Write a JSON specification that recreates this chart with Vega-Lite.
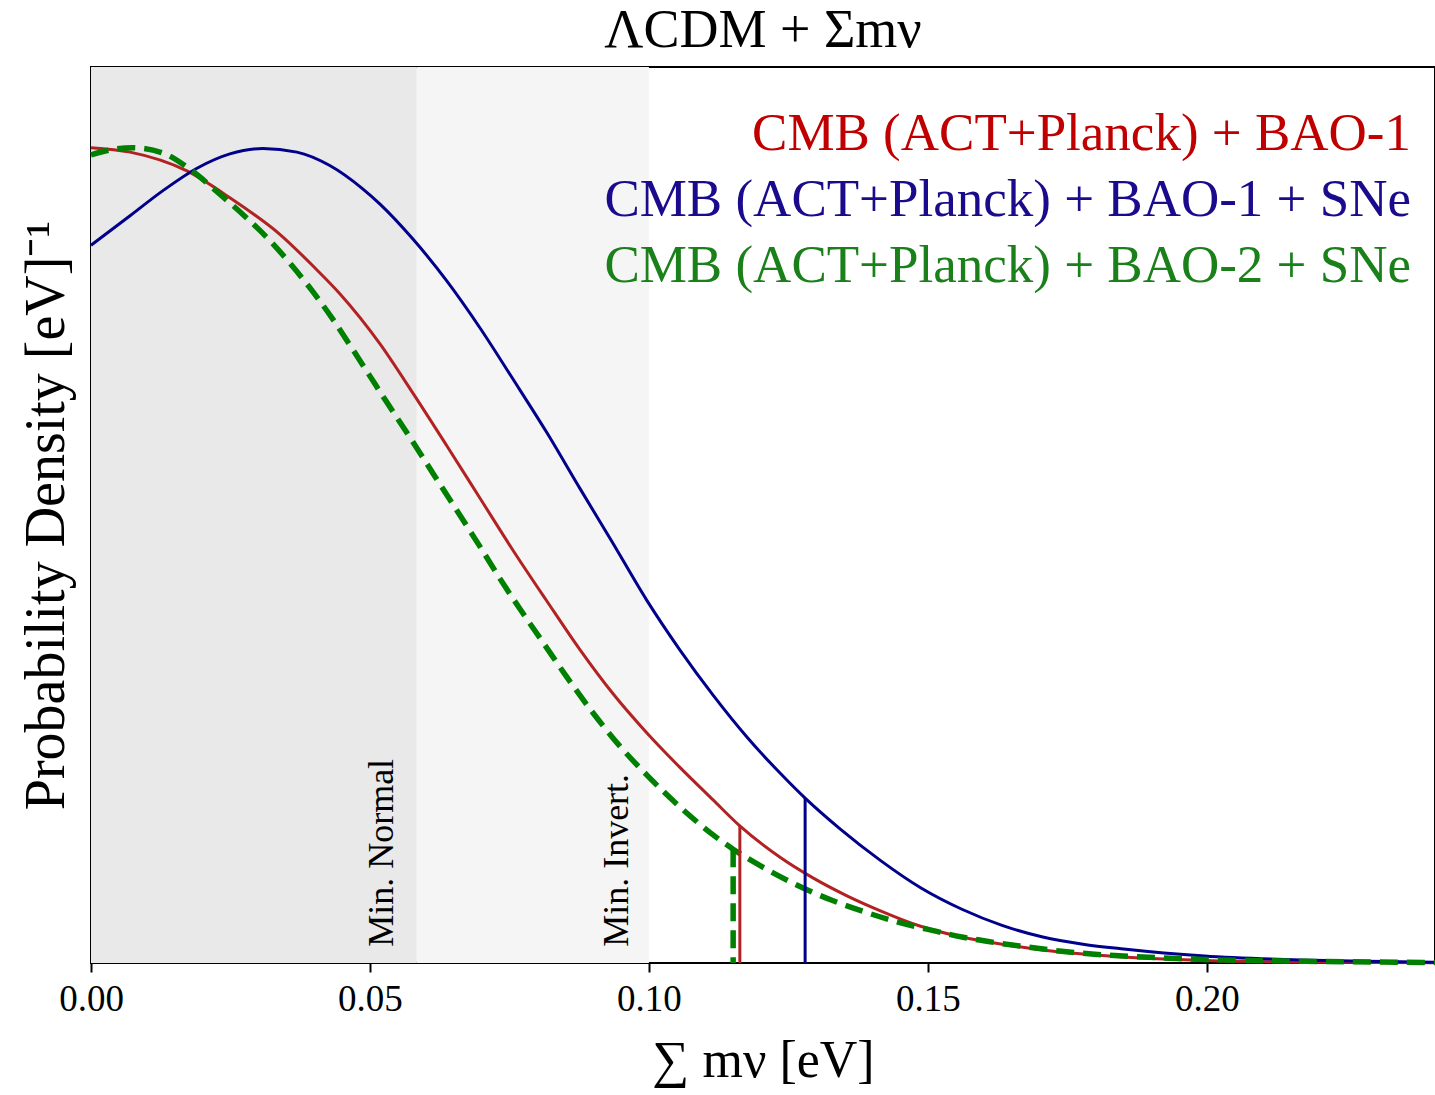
{
  "$schema": "https://vega.github.io/schema/vega-lite/v6.json",
  "autosize": {"type": "none"},
  "width": 1344,
  "height": 896,
  "padding": {"left": 91, "top": 67, "right": 0, "bottom": 132},
  "background": "white",
  "config": {
    "font": "Liberation Serif",
    "view": {"stroke": "black", "strokeWidth": 2},
    "title": {"font": "Liberation Serif", "fontSize": 54, "fontWeight": "normal", "color": "black", "offset": 9, "anchor": "middle"},
    "axis": {"grid": false, "labelFont": "Liberation Serif", "titleFont": "Liberation Serif", "titleFontWeight": "normal", "labelColor": "black", "titleColor": "black"}
  },
  "title": {"text": "ΛCDM + Σmν"},
  "datasets": {
    "curves": [
      {"s": "R", "m": 0.0, "p": 0.910}, {"s": "R", "m": 0.0070, "p": 0.905}, {"s": "R", "m": 0.0172, "p": 0.884}, {"s": "R", "m": 0.0249, "p": 0.854}, {"s": "R", "m": 0.0339, "p": 0.813}, {"s": "R", "m": 0.0401, "p": 0.776}, {"s": "R", "m": 0.0446, "p": 0.747}, {"s": "R", "m": 0.0518, "p": 0.691}, {"s": "R", "m": 0.0577, "p": 0.636}, {"s": "R", "m": 0.0638, "p": 0.577}, {"s": "R", "m": 0.0697, "p": 0.519}, {"s": "R", "m": 0.0756, "p": 0.461}, {"s": "R", "m": 0.0817, "p": 0.404}, {"s": "R", "m": 0.0876, "p": 0.350}, {"s": "R", "m": 0.0935, "p": 0.301}, {"s": "R", "m": 0.0996, "p": 0.257}, {"s": "R", "m": 0.1056, "p": 0.218}, {"s": "R", "m": 0.1115, "p": 0.182}, {"s": "R", "m": 0.1163, "p": 0.153}, {"s": "R", "m": 0.1235, "p": 0.118}, {"s": "R", "m": 0.1294, "p": 0.095}, {"s": "R", "m": 0.1355, "p": 0.075}, {"s": "R", "m": 0.1416, "p": 0.058}, {"s": "R", "m": 0.1487, "p": 0.041}, {"s": "R", "m": 0.1561, "p": 0.029}, {"s": "R", "m": 0.1633, "p": 0.021}, {"s": "R", "m": 0.1706, "p": 0.0145}, {"s": "R", "m": 0.1778, "p": 0.010}, {"s": "R", "m": 0.1851, "p": 0.0067}, {"s": "R", "m": 0.1923, "p": 0.0045}, {"s": "R", "m": 0.1996, "p": 0.0028}, {"s": "R", "m": 0.2142, "p": 0.0011}, {"s": "R", "m": 0.2409, "p": 0.0003},
      {"s": "B", "m": 0.0, "p": 0.801}, {"s": "B", "m": 0.0070, "p": 0.834}, {"s": "B", "m": 0.0129, "p": 0.862}, {"s": "B", "m": 0.0190, "p": 0.887}, {"s": "B", "m": 0.0249, "p": 0.903}, {"s": "B", "m": 0.0308, "p": 0.909}, {"s": "B", "m": 0.0369, "p": 0.905}, {"s": "B", "m": 0.0428, "p": 0.890}, {"s": "B", "m": 0.0487, "p": 0.864}, {"s": "B", "m": 0.0518, "p": 0.847}, {"s": "B", "m": 0.0577, "p": 0.808}, {"s": "B", "m": 0.0638, "p": 0.761}, {"s": "B", "m": 0.0697, "p": 0.709}, {"s": "B", "m": 0.0756, "p": 0.652}, {"s": "B", "m": 0.0817, "p": 0.592}, {"s": "B", "m": 0.0876, "p": 0.530}, {"s": "B", "m": 0.0935, "p": 0.469}, {"s": "B", "m": 0.0996, "p": 0.405}, {"s": "B", "m": 0.1056, "p": 0.349}, {"s": "B", "m": 0.1115, "p": 0.299}, {"s": "B", "m": 0.1176, "p": 0.252}, {"s": "B", "m": 0.1235, "p": 0.212}, {"s": "B", "m": 0.1280, "p": 0.184}, {"s": "B", "m": 0.1342, "p": 0.150}, {"s": "B", "m": 0.1416, "p": 0.114}, {"s": "B", "m": 0.1487, "p": 0.084}, {"s": "B", "m": 0.1561, "p": 0.060}, {"s": "B", "m": 0.1633, "p": 0.042}, {"s": "B", "m": 0.1706, "p": 0.029}, {"s": "B", "m": 0.1778, "p": 0.021}, {"s": "B", "m": 0.1851, "p": 0.0156}, {"s": "B", "m": 0.1923, "p": 0.0112}, {"s": "B", "m": 0.1996, "p": 0.0078}, {"s": "B", "m": 0.2142, "p": 0.0039}, {"s": "B", "m": 0.2287, "p": 0.0019}, {"s": "B", "m": 0.2409, "p": 0.0009},
      {"s": "G", "m": 0.0, "p": 0.902}, {"s": "G", "m": 0.0039, "p": 0.908}, {"s": "G", "m": 0.0075, "p": 0.910}, {"s": "G", "m": 0.0129, "p": 0.904}, {"s": "G", "m": 0.0177, "p": 0.886}, {"s": "G", "m": 0.0231, "p": 0.858}, {"s": "G", "m": 0.0280, "p": 0.831}, {"s": "G", "m": 0.0321, "p": 0.806}, {"s": "G", "m": 0.0362, "p": 0.777}, {"s": "G", "m": 0.0398, "p": 0.749}, {"s": "G", "m": 0.0434, "p": 0.718}, {"s": "G", "m": 0.0470, "p": 0.684}, {"s": "G", "m": 0.0500, "p": 0.655}, {"s": "G", "m": 0.0530, "p": 0.626}, {"s": "G", "m": 0.0566, "p": 0.592}, {"s": "G", "m": 0.0595, "p": 0.564}, {"s": "G", "m": 0.0631, "p": 0.529}, {"s": "G", "m": 0.0661, "p": 0.500}, {"s": "G", "m": 0.0697, "p": 0.465}, {"s": "G", "m": 0.0733, "p": 0.429}, {"s": "G", "m": 0.0769, "p": 0.395}, {"s": "G", "m": 0.0810, "p": 0.358}, {"s": "G", "m": 0.0853, "p": 0.319}, {"s": "G", "m": 0.0900, "p": 0.279}, {"s": "G", "m": 0.0948, "p": 0.242}, {"s": "G", "m": 0.0996, "p": 0.210}, {"s": "G", "m": 0.1056, "p": 0.174}, {"s": "G", "m": 0.1115, "p": 0.143}, {"s": "G", "m": 0.1151, "p": 0.127}, {"s": "G", "m": 0.1204, "p": 0.107}, {"s": "G", "m": 0.1265, "p": 0.087}, {"s": "G", "m": 0.1328, "p": 0.070}, {"s": "G", "m": 0.1387, "p": 0.057}, {"s": "G", "m": 0.1444, "p": 0.046}, {"s": "G", "m": 0.1504, "p": 0.037}, {"s": "G", "m": 0.1561, "p": 0.029}, {"s": "G", "m": 0.1618, "p": 0.023}, {"s": "G", "m": 0.1677, "p": 0.018}, {"s": "G", "m": 0.1735, "p": 0.0134}, {"s": "G", "m": 0.1794, "p": 0.010}, {"s": "G", "m": 0.1851, "p": 0.0078}, {"s": "G", "m": 0.1923, "p": 0.0056}, {"s": "G", "m": 0.1996, "p": 0.0039}, {"s": "G", "m": 0.2142, "p": 0.0022}, {"s": "G", "m": 0.2409, "p": 0.0006}
    ],
    "bounds": [
      {"s": "R", "m": 0.1163, "p": 0.153},
      {"s": "B", "m": 0.1280, "p": 0.184},
      {"s": "G", "m": 0.1151, "p": 0.127}
    ],
    "zones": [
      {"zone": "normal", "lo": 0.0, "hi": 0.0584},
      {"zone": "inverted", "lo": 0.0584, "hi": 0.1}
    ],
    "notes": [
      {"label": "Min. Normal", "m": 0.0541, "p": 0.018},
      {"label": "Min. Invert.", "m": 0.0963, "p": 0.018}
    ]
  },
  "layer": [
    {
      "data": {"name": "zones"},
      "mark": {"type": "rect"},
      "encoding": {
        "x": {"field": "lo", "type": "quantitative"},
        "x2": {"field": "hi"},
        "fill": {"field": "zone", "type": "nominal", "scale": {"domain": ["normal", "inverted"], "range": ["#e9e9e9", "#f5f5f5"]}, "legend": null}
      }
    },
    {
      "data": {"name": "curves"},
      "transform": [{"filter": "datum.s !== 'G'"}],
      "mark": {"type": "line", "interpolate": "monotone", "strokeWidth": 3},
      "encoding": {
        "x": {"field": "m", "type": "quantitative", "scale": {"domain": [0, 0.2409], "nice": false, "zero": false},
          "axis": {"values": [0, 0.05, 0.1, 0.15, 0.2], "format": ".2f", "title": "∑ mν [eV]", "titleFontSize": 52, "titlePadding": 18, "labelFontSize": 37, "labelPadding": 9, "tickColor": "black", "tickWidth": 2, "tickSize": 9, "domain": false, "labelFlush": false}},
        "y": {"field": "p", "type": "quantitative", "scale": {"domain": [0, 1], "nice": false},
          "axis": {"title": "Probability Density [eV]⁻¹", "titleFontSize": 56, "titlePadding": 16, "labels": false, "ticks": false, "domain": false}},
        "color": {"field": "s", "type": "nominal", "scale": {"domain": ["R", "B", "G"], "range": ["#b22222", "#00008b", "#008000"]},
          "legend": {"orient": "top-right", "offset": 24, "padding": 0, "title": " ", "titleFontSize": 24, "titlePadding": 8, "labelAlign": "right", "labelBaseline": "alphabetic", "labelFontSize": 53, "labelFont": "Liberation Serif", "labelLimit": 0, "labelOffset": 0, "symbolSize": 0, "symbolOpacity": 0, "symbolStrokeWidth": 0, "rowPadding": 12,
            "labelExpr": "datum.value === 'R' ? 'CMB (ACT+Planck) + BAO-1' : datum.value === 'B' ? 'CMB (ACT+Planck) + BAO-1 + SNe' : 'CMB (ACT+Planck) + BAO-2 + SNe'",
            "encode": {"labels": {"update": {"fill": {"signal": "datum.value === 'R' ? '#c00000' : datum.value === 'B' ? '#1a0a8c' : '#1a801a'"}}}}}}
      }
    },
    {
      "data": {"name": "curves"},
      "transform": [{"filter": "datum.s === 'G'"}],
      "mark": {"type": "line", "interpolate": "monotone", "strokeWidth": 5.5, "strokeDash": [18, 9], "strokeCap": "butt"},
      "encoding": {
        "x": {"field": "m", "type": "quantitative"},
        "y": {"field": "p", "type": "quantitative"},
        "color": {"field": "s", "type": "nominal"}
      }
    },
    {
      "data": {"name": "bounds"},
      "transform": [{"filter": "datum.s !== 'G'"}],
      "mark": {"type": "rule", "strokeWidth": 3},
      "encoding": {
        "x": {"field": "m", "type": "quantitative"},
        "y": {"field": "p", "type": "quantitative"},
        "y2": {"datum": 0},
        "color": {"field": "s", "type": "nominal"}
      }
    },
    {
      "data": {"name": "bounds"},
      "transform": [{"filter": "datum.s === 'G'"}],
      "mark": {"type": "rule", "strokeWidth": 5.5, "strokeDash": [18, 9], "strokeCap": "butt"},
      "encoding": {
        "x": {"field": "m", "type": "quantitative"},
        "y": {"field": "p", "type": "quantitative"},
        "y2": {"datum": 0},
        "color": {"field": "s", "type": "nominal"}
      }
    },
    {
      "data": {"name": "notes"},
      "mark": {"type": "text", "angle": 270, "align": "left", "baseline": "alphabetic", "fontSize": 36, "font": "Liberation Serif", "color": "black"},
      "encoding": {
        "x": {"field": "m", "type": "quantitative"},
        "y": {"field": "p", "type": "quantitative"},
        "text": {"field": "label"}
      }
    }
  ]
}
